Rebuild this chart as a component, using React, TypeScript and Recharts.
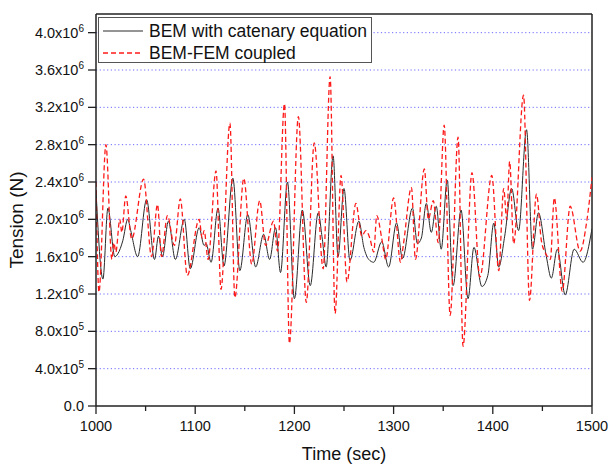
import { LineChart, Line, XAxis, YAxis, CartesianGrid, ReferenceLine, Label } from "recharts";

// BEM with catenary equation (tension in 1e6 N)
const bemTime = [
  1000, 1007, 1012, 1019, 1022, 1027, 1032, 1035, 1042, 1051, 1059, 1063, 1067, 1073, 1080,
  1089, 1095, 1104, 1109, 1111, 1116, 1123, 1129, 1138, 1145, 1153, 1161, 1169, 1175, 1181,
  1186, 1193, 1200, 1208, 1216, 1224, 1228, 1232, 1239, 1244, 1250, 1256, 1265, 1270, 1275,
  1280, 1288, 1295, 1303, 1309, 1319, 1324, 1328, 1333, 1338, 1343, 1348, 1354, 1360, 1368,
  1375, 1381, 1389, 1395, 1401, 1406, 1412, 1419, 1426, 1434, 1440, 1446, 1454, 1459, 1465,
  1473, 1482, 1491, 1500,
];
const bemTension = [
  2.31, 1.36, 2.12, 1.6, 1.63, 1.77, 2.0, 1.88, 1.6, 2.21, 1.57, 1.82, 1.6, 1.98, 1.57,
  2.0, 1.47, 1.91, 1.72, 1.74, 1.54, 2.12, 1.5, 2.44, 1.45, 2.05, 1.49, 1.84, 1.57, 1.91,
  1.43, 2.4, 1.15, 2.1, 1.29, 2.07, 1.8, 1.49, 2.68, 1.6, 2.33, 1.56, 1.98, 1.7, 1.57,
  1.54, 1.76, 1.49, 1.96, 1.58, 2.12, 1.74, 1.8, 2.17, 1.86, 2.14, 1.68, 2.42, 1.29, 2.1,
  1.15, 1.7, 1.28, 1.4, 1.96, 1.49, 1.82, 2.33, 1.88, 2.96, 1.68, 2.07, 1.6, 1.37, 1.68,
  1.19, 1.68, 1.54, 1.9,
];

// BEM-FEM coupled
const femTime = [
  1000, 1003, 1010, 1016, 1018, 1020, 1024, 1026, 1030, 1036, 1048, 1056, 1062, 1066, 1072,
  1079, 1085, 1092, 1104, 1107, 1109, 1113, 1121, 1126, 1135, 1140, 1149, 1157, 1165, 1171,
  1179, 1183, 1190, 1195, 1204, 1212, 1220, 1229, 1236, 1241, 1247, 1253, 1262, 1268, 1272,
  1276, 1280, 1283, 1288, 1292, 1300, 1307, 1310, 1318, 1322, 1331, 1335, 1340, 1345, 1351,
  1357, 1365, 1370, 1379, 1387, 1399, 1406, 1411, 1414, 1417, 1421, 1431, 1437, 1444, 1449,
  1454, 1458, 1462, 1470, 1478, 1488, 1495, 1500,
];
const femTension = [
  2.4, 1.22, 2.8, 1.57, 1.75, 1.65, 2.0, 1.86, 2.25, 1.79, 2.43, 1.6, 2.16, 1.6, 2.04,
  1.72, 2.22, 1.4, 2.0, 1.8, 1.88, 1.57, 2.52, 1.25, 3.03, 1.16, 2.44, 1.52, 2.2, 1.72,
  1.98, 1.66, 3.24, 0.67, 3.1, 1.11, 2.82, 1.47, 3.53, 0.99, 2.47, 1.33, 2.17, 1.82, 1.88,
  1.8, 1.65, 2.04, 1.8, 1.57, 2.23, 1.54, 1.74, 2.34, 1.57, 2.54, 2.0, 2.2, 1.75, 3.01,
  0.97, 2.88, 0.64, 2.5, 1.38, 2.47, 1.45, 2.33, 2.0, 2.62, 1.74, 3.33, 1.13, 2.27, 1.77,
  1.62, 1.57, 2.23, 1.23, 2.14, 1.66, 2.0, 2.45,
];

const xTicks = [1000, 1050, 1100, 1150, 1200, 1250, 1300, 1350, 1400, 1450, 1500];
const yTicks = [
  0, 0.2, 0.4, 0.6, 0.8, 1.0, 1.2, 1.4, 1.6, 1.8, 2.0, 2.2, 2.4, 2.6, 2.8, 3.0, 3.2, 3.4, 3.6,
  3.8, 4.0,
];
const gridValues = [0.4, 0.8, 1.2, 1.6, 2.0, 2.4, 2.8, 3.2, 3.6, 4.0];

const bemData = bemTime.map((t, i) => ({ t, v: bemTension[i] }));
const femData = femTime.map((t, i) => ({ t, v: femTension[i] }));

const FONT = "'Liberation Sans', Arial, sans-serif";

const YTick = (props: any) => {
  const { x, y, payload } = props;
  const v = payload.value;
  const major = Math.round(v * 10) % 4 === 0;
  if (!major) {
    return <line x1={x - 5} x2={x} y1={y} y2={y} stroke="#222" strokeWidth={1.3} />;
  }
  let label: any;
  if (v === 0) label = "0.0";
  else if (v < 1)
    label = (
      <>
        {(v * 10).toFixed(1)}x10<tspan dy={-6} fontSize={10}>5</tspan>
      </>
    );
  else
    label = (
      <>
        {v.toFixed(1)}x10<tspan dy={-6} fontSize={10}>6</tspan>
      </>
    );
  return (
    <g>
      <line x1={x - 8} x2={x} y1={y} y2={y} stroke="#222" strokeWidth={1.3} />
      <text x={x - 12} y={y + 5} textAnchor="end" fontSize={14.5} fontFamily={FONT} fill="#111">
        {label}
      </text>
    </g>
  );
};

const XTick = (props: any) => {
  const { x, y, payload } = props;
  const v = payload.value;
  const major = v % 100 === 0;
  if (!major) {
    return <line x1={x} x2={x} y1={y} y2={y + 5} stroke="#222" strokeWidth={1.3} />;
  }
  return (
    <g>
      <line x1={x} x2={x} y1={y} y2={y + 8} stroke="#222" strokeWidth={1.3} />
      <text x={x} y={y + 25} textAnchor="middle" fontSize={14.5} fontFamily={FONT} fill="#111">
        {v}
      </text>
    </g>
  );
};

const TensionChart = () => {
  return (
    <div style={{ position: "absolute", left: 0, top: 0, width: 609, height: 466, background: "#fff" }}>
      <LineChart width={609} height={466} margin={{ top: 14, right: 17, left: 0, bottom: 0 }}>
        <CartesianGrid
          vertical={false}
          horizontalValues={gridValues}
          stroke="#6b6bff"
          strokeDasharray="1.2 2.5"
        />
        <XAxis
          dataKey="t"
          type="number"
          domain={[1000, 1500]}
          ticks={xTicks}
          allowDataOverflow
          height={60}
          tickSize={0}
          tickMargin={0}
          tickLine={false}
          tick={<XTick />}
          axisLine={{ stroke: "#222", strokeWidth: 1.5 }}
        >
          <Label
            value="Time (sec)"
            position="insideBottom"
            offset={6}
            style={{ fontSize: 18, fontFamily: FONT, fill: "#111" }}
          />
        </XAxis>
        <YAxis
          dataKey="v"
          type="number"
          domain={[0, 4.2]}
          ticks={yTicks}
          allowDataOverflow
          width={96}
          tickSize={0}
          tickMargin={0}
          tickLine={false}
          tick={<YTick />}
          axisLine={{ stroke: "#222", strokeWidth: 1.5 }}
        >
          <Label
            value="Tension (N)"
            angle={-90}
            position="insideLeft"
            offset={16}
            dy={10}
            style={{ fontSize: 19, fontFamily: FONT, fill: "#111", textAnchor: "middle" }}
          />
        </YAxis>
        <ReferenceLine y={4.2} stroke="#222" strokeWidth={1.5} />
        <ReferenceLine x={1500} stroke="#222" strokeWidth={1.5} />
        <Line
          data={bemData}
          dataKey="v"
          type="monotone"
          stroke="#2a2a2a"
          strokeWidth={1}
          dot={false}
          isAnimationActive={false}
        />
        <Line
          data={femData}
          dataKey="v"
          type="monotone"
          stroke="#ff1a1a"
          strokeWidth={1.3}
          strokeDasharray="5 3"
          dot={false}
          isAnimationActive={false}
        />
      </LineChart>
      <div
        style={{
          position: "absolute",
          left: 98,
          top: 17,
          width: 274,
          height: 46,
          border: "1px solid #555",
          background: "#fff",
          boxSizing: "border-box",
        }}
      >
        <svg width={274} height={46} style={{ position: "absolute", left: 0, top: 0 }}>
          <line x1={4} x2={44} y1={13} y2={13} stroke="#2a2a2a" strokeWidth={1} />
          <line x1={4} x2={44} y1={35} y2={35} stroke="#ff1a1a" strokeWidth={1.3} strokeDasharray="5 3" />
          <text x={50} y={19} fontSize={17.5} fontFamily={FONT} fill="#111">
            BEM with catenary equation
          </text>
          <text x={50} y={41} fontSize={17.5} fontFamily={FONT} fill="#111">
            BEM-FEM coupled
          </text>
        </svg>
      </div>
    </div>
  );
};

export default function App() {
  return <TensionChart />;
}
